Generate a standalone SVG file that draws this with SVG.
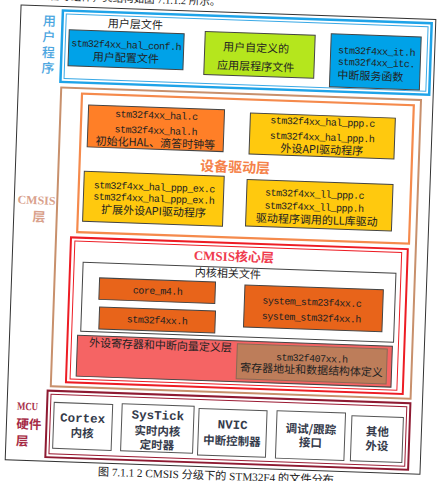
<svg xmlns="http://www.w3.org/2000/svg" width="437" height="481" viewBox="0 0 437 481">
<style>
.cjk{font-family:"Noto Sans CJK SC","Noto Sans",sans-serif;font-size:11px;fill:#222}
.code{font-family:"Liberation Mono","DejaVu Sans Mono",monospace;font-size:10px;letter-spacing:-0.5px;fill:#222}
.c{text-anchor:middle}
.bx{stroke:#444;stroke-width:1}
.hw{fill:#fff;stroke:#555;stroke-width:1}
.hwt{font-family:"Liberation Mono","DejaVu Sans Mono",monospace;font-weight:bold;font-size:12.5px;fill:#353b4b;text-anchor:middle}
.hwc{font-family:"Noto Sans CJK SC",sans-serif;font-weight:bold;font-size:11.5px;fill:#353b4b;text-anchor:middle}
.layer{fill:none}
.ser{font-family:"Liberation Serif","Noto Sans CJK SC",serif}
</style>
<rect x="0" y="0" width="437" height="481" fill="#fff"/>
<g transform="rotate(2 218 240)">
  <text class="ser" x="212" y="5.5" font-size="10.5" text-anchor="end" fill="#222">设备等组件，其结构如图 7.1.1.2 所示。</text>
  <rect id="frame" x="13" y="12" width="415" height="455" fill="none" stroke="#333" stroke-width="1"/>

  <g id="user-layer">
    <rect class="layer" x="55" y="16" width="369" height="71.5" stroke="#1ea3e8" stroke-width="2.5"/>
    <rect class="layer" x="58.5" y="19.5" width="362" height="64.5" stroke="#3aa9e6" stroke-width="1"/>
    <g font-family="Noto Sans CJK SC, sans-serif" font-size="13" fill="#4aa5e0" text-anchor="middle" font-weight="500">
      <text x="42" y="31.8">用</text>
      <text x="42" y="47.5">户</text>
      <text x="42" y="63.2">程</text>
      <text x="42" y="78.8">序</text>
    </g>
    <text class="cjk c" x="128" y="31.2" font-size="11.5">用户层文件</text>
  </g>
  <g id="hal-conf">
    <rect class="bx" x="62" y="35" width="115" height="36" fill="#00a2e8"/>
    <text class="code c" x="119.5" y="51.5">stm32f4xx_hal_conf.h</text>
    <text class="cjk c" x="119.5" y="65">用户配置文件</text>
  </g>
  <g id="user-app">
    <rect class="bx" x="198" y="32" width="110" height="43" fill="#b5e61d"/>
    <text class="cjk c" x="249.5" y="50.5" font-size="7.5" fill="#333">用户自定义的</text>
    <text class="cjk c" x="249.5" y="69" font-size="7.5" fill="#333">应用层程序文件</text>
  </g>
  <g id="it">
    <rect class="bx" x="324" y="30" width="90" height="53" fill="#00a2e8"/>
    <text class="code" x="331.5" y="49.2">stm32f4xx_it.h</text>
    <text class="code" x="331.5" y="60.7">stm32f4xx_itc.</text>
    <text class="cjk" x="331.5" y="74.7">中断服务函数</text>
  </g>

  <g id="cmsis-layer">
    <rect class="layer" x="56" y="93" width="360" height="299" stroke="#c8906c" stroke-width="2"/>
    <text class="ser" x="35.3" y="210.6" font-size="12" font-weight="bold" fill="#d9a18c" text-anchor="middle">CMSIS</text>
    <text x="38.2" y="227.8" font-family="Noto Sans CJK SC, sans-serif" font-size="13" font-weight="bold" fill="#d9a18c" text-anchor="middle">层</text>
  </g>

  <g id="driver-layer">
    <rect class="layer" x="77" y="98.5" width="332" height="138.5" stroke="#f58a4c" stroke-width="2.2"/>
    <text x="232.5" y="171.5" font-family="Noto Sans CJK SC, sans-serif" font-size="14" font-weight="bold" fill="#f5824a" text-anchor="middle">设备驱动层</text>
  </g>
  <g id="hal">
    <rect class="bx" x="84" y="109.5" width="136" height="42" fill="#ff7f27"/>
    <text class="code c" x="152" y="120.7">stm32f4xx_hal.c</text>
    <text class="code c" x="152" y="136">stm32f4xx_hal.h</text>
    <text class="cjk c" x="152" y="149">初始化HAL、滴答时钟等</text>
  </g>
  <g id="hal-ppp">
    <rect class="bx" x="246" y="112" width="145" height="41" fill="#ffc90e"/>
    <text class="code c" x="318.5" y="121.6">stm32f4xx_hal_ppp.c</text>
    <text class="code c" x="318.5" y="136.9">stm32f4xx_hal_ppp.h</text>
    <text class="cjk c" x="318.5" y="150">外设API驱动程序</text>
  </g>
  <g id="hal-ppp-ex">
    <rect class="bx" x="82" y="176" width="140" height="50" fill="#ffc90e"/>
    <text class="code c" x="152.5" y="192.5">stm32f4xx_hal_ppp_ex.c</text>
    <text class="code c" x="152.5" y="204">stm32f4xx_hal_ppp_ex.h</text>
    <text class="cjk c" x="152.5" y="217.4">扩展外设API驱动程序</text>
  </g>
  <g id="ll-ppp">
    <rect class="bx" x="245" y="178.5" width="146" height="46.5" fill="#ffc90e"/>
    <text class="code c" x="313" y="193.9">stm32f4xx_ll_ppp.c</text>
    <text class="code c" x="313" y="206.9">stm32f4xx_ll_ppp.h</text>
    <text class="cjk c" x="316" y="220.4">驱动程序调用的LL库驱动</text>
  </g>

  <g id="core-layer">
    <rect class="layer" x="71" y="242.5" width="337" height="145" stroke="#ed1c24" stroke-width="2"/>
    <rect class="layer" x="75" y="246" width="327" height="138" stroke="#ed1c24" stroke-width="1"/>
    <text x="234.5" y="260.5" font-family="Liberation Serif, Noto Sans CJK SC, serif" font-size="13" font-weight="bold" fill="#ef3b4e" text-anchor="middle">CMSIS核心层</text>
  </g>
  <g id="core-files">
    <rect x="84" y="267" width="313" height="69" fill="#fff" stroke="#444" stroke-width="1"/>
    <text class="cjk c" x="229" y="277">内核相关文件</text>
  </g>
  <g id="core-m4">
    <rect class="bx" x="101" y="282" width="116" height="21.5" fill="#e8641a"/>
    <text class="code c" x="159.5" y="296.2">core_m4.h</text>
  </g>
  <g id="stm32f4xx-h">
    <rect class="bx" x="102" y="311" width="116" height="22" fill="#e8641a"/>
    <text class="code c" x="160" y="325.5">stm32f4xx.h</text>
  </g>
  <g id="system">
    <rect class="bx" x="246.5" y="284" width="138.5" height="42" fill="#e8641a"/>
    <text class="code c" x="314" y="302">system_stm23f4xx.c</text>
    <text class="code c" x="314" y="317.5">system_stm32f4xx.h</text>
  </g>
  <g id="periph-reg">
    <rect class="bx" x="81" y="340" width="315" height="41" fill="#f56464"/>
    <text class="cjk" x="92.7" y="351" fill="#333">外设寄存器和中断向量定义层</text>
  </g>
  <g id="stm32f407">
    <rect x="241" y="343" width="150" height="35" fill="#bd7d5a" stroke="#8a6a55" stroke-width="1"/>
    <text class="code c" x="316" y="358.2">stm32f407xx.h</text>
    <text class="cjk c" x="316" y="370.5">寄存器地址和数据结构体定义</text>
  </g>

  <g id="mcu-layer">
    <rect class="layer" x="53" y="396.5" width="363" height="66.5" stroke="#8e1a32" stroke-width="2"/>
    <rect class="layer" x="56.5" y="400" width="356" height="59.5" stroke="#9b1b33" stroke-width="1"/>
    <text class="ser" x="23" y="416.5" font-size="11" font-weight="bold" fill="#a62b45" textLength="21" lengthAdjust="spacingAndGlyphs">MCU</text>
    <text x="23" y="435.2" font-family="Noto Sans CJK SC, sans-serif" font-size="12.5" font-weight="bold" fill="#a62b45">硬件</text>
    <text x="23" y="452.2" font-family="Noto Sans CJK SC, sans-serif" font-size="12.5" font-weight="bold" fill="#a62b45">层</text>
  </g>
  <g id="cortex">
    <rect class="hw" x="60" y="408" width="58.5" height="46"/>
    <text class="hwt" x="89" y="426.9">Cortex</text>
    <text class="hwc" x="89" y="441.8">内核</text>
  </g>
  <g id="systick">
    <rect class="hw" x="128" y="407" width="72" height="47"/>
    <text class="hwt" x="164" y="421.3">SysTick</text>
    <text class="hwc" x="164" y="437.2">实时内核</text>
    <text class="hwc" x="164" y="451.2">定时器</text>
  </g>
  <g id="nvic">
    <rect class="hw" x="205" y="409" width="68" height="46.5"/>
    <text class="hwt" x="239" y="428.2">NVIC</text>
    <text class="hwc" x="239" y="444.5">中断控制器</text>
  </g>
  <g id="debug">
    <rect class="hw" x="283" y="408.5" width="68.5" height="47.5"/>
    <text class="hwc" x="317.5" y="429.9">调试/跟踪</text>
    <text class="hwc" x="317.5" y="443.4">接口</text>
  </g>
  <g id="other">
    <rect class="hw" x="358" y="411" width="51.5" height="45"/>
    <text class="hwc" x="384" y="430.2">其他</text>
    <text class="hwc" x="384" y="444.4">外设</text>
  </g>
  <g id="connectors"/>
  <text class="ser" x="106" y="479.5" font-size="11.2" fill="#222">图 7.1.1 2 CMSIS 分级下的 STM32F4 的文件分布</text>
</g>
</svg>
